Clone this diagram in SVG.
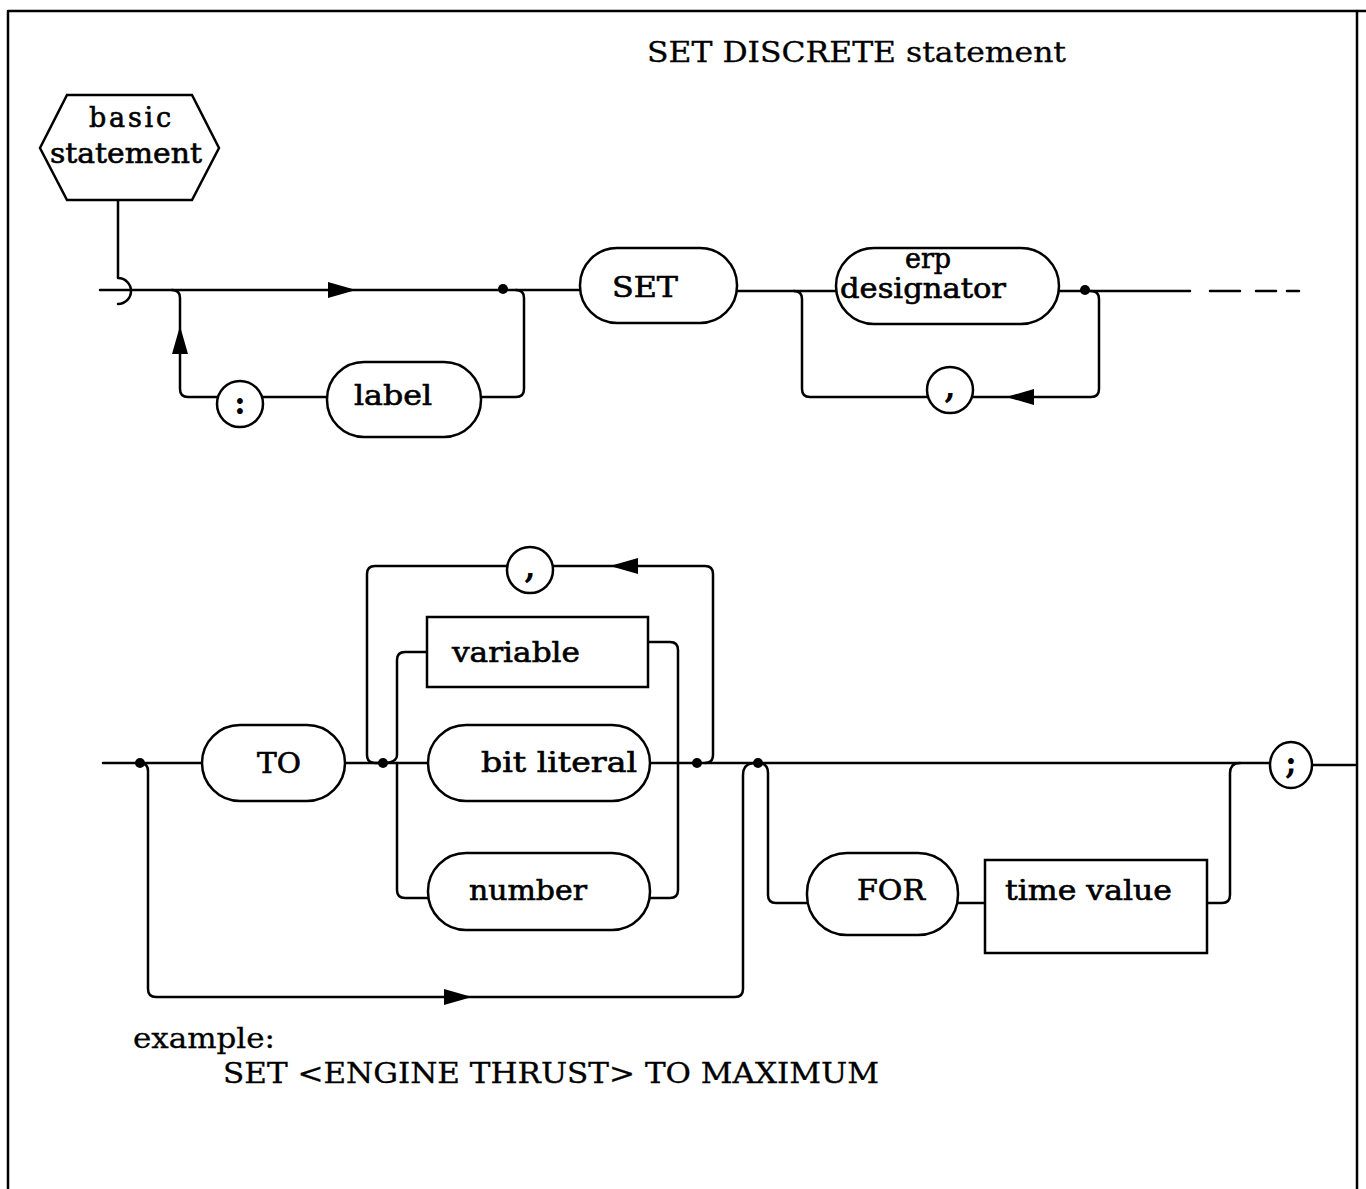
<svg xmlns="http://www.w3.org/2000/svg" width="1366" height="1189" viewBox="0 0 1366 1189">
<style>
.ln{fill:none;stroke:#000;stroke-width:2.5;stroke-linecap:round;stroke-linejoin:round}
.bx{fill:#fff;stroke:#000;stroke-width:2.5}
.ar{fill:#000}
.dot{fill:#000}
.lb{font-family:"DejaVu Serif","Liberation Serif",serif;font-size:27px;fill:#000;stroke:#000;stroke-width:0.6}
.pn{font-family:"DejaVu Serif","Liberation Serif",serif;font-size:32px;font-weight:bold;fill:#000}
.tt{font-family:"DejaVu Serif","Liberation Serif",serif;font-size:27px;fill:#000;stroke:#000;stroke-width:0.3}
</style>
<defs>
<path id="arr" d="M0,0 L-28,-8 L-28,8 Z"/>
</defs>
<rect width="1366" height="1189" fill="#fff"/>
<g id="frame">
<path class="ln" d="M8,1189 V11 H1366" stroke-width="3"/>
<path class="ln" d="M1357,11 V1189"/>
</g>
<text id="title" class="tt" x="647" y="62" textLength="419" lengthAdjust="spacingAndGlyphs">SET DISCRETE statement</text>

<g id="connectors">
<path class="ln" d="M118,200 V278 A13,13 0 0 1 118,304"/>
<path class="ln" d="M100,290 H580"/>
<path class="ln" d="M172,290 Q180,290 180,298 V389 Q180,397 188,397 H217"/>
<path class="ln" d="M263,397 H327"/>
<path class="ln" d="M481,397 H516 Q524,397 524,389 V298 Q524,290 516,290"/>
<path class="ln" d="M737,291 H836"/>
<path class="ln" d="M794,291 Q802,291 802,299 V389 Q802,397 810,397 H927"/>
<path class="ln" d="M973,397 H1091 Q1099,397 1099,389 V299 Q1099,291 1091,291"/>
<path class="ln" d="M1059,291 H1190"/>
<path class="ln" d="M1210,291 H1240 M1256,291 H1276 M1287,291 H1299"/>
<use href="#arr" class="ar" transform="translate(356,290)"/>
<use href="#arr" class="ar" transform="translate(180,326) rotate(-90)"/>
<use href="#arr" class="ar" transform="translate(1006,397) rotate(180)"/>

<path class="ln" d="M103,763 H202"/>
<path class="ln" d="M140,763 Q148,763 148,771 V989 Q148,997 156,997 H735 Q743,997 743,989 V775 Q743,763 755,763"/>
<path class="ln" d="M345,763 H428"/>
<path class="ln" d="M383,763 H375 Q367,763 367,755 V574 Q367,566 375,566 H507"/>
<path class="ln" d="M553,566 H705 Q713,566 713,574 V755 Q713,763 705,763"/>
<path class="ln" d="M383,763 Q397,763 397,755 V660 Q397,652 405,652 H427"/>
<path class="ln" d="M397,763 V890 Q397,898 405,898 H428"/>
<path class="ln" d="M648,642 H670 Q678,642 678,650 V890 Q678,898 670,898 H650"/>
<path class="ln" d="M650,763 H1270"/>
<path class="ln" d="M758,763 Q768,763 768,773 V895 Q768,903 776,903 H807"/>
<path class="ln" d="M958,903 H985"/>
<path class="ln" d="M1207,903 H1222 Q1230,903 1230,895 V773 Q1230,763 1240,763"/>
<path class="ln" d="M1312,765 H1355"/>
<use href="#arr" class="ar" transform="translate(610,566) rotate(180)"/>
<use href="#arr" class="ar" transform="translate(472,997)"/>

<circle class="dot" cx="503" cy="289" r="5"/>
<circle class="dot" cx="1085" cy="290" r="5"/>
<circle class="dot" cx="140" cy="763" r="5"/>
<circle class="dot" cx="383" cy="763" r="5"/>
<circle class="dot" cx="697" cy="763" r="5"/>
<circle class="dot" cx="758" cy="763" r="5"/>
</g>

<g id="basic-statement">
<polygon class="bx" points="67,95 192,95 219,148 192,200 67,200 40,148"/>
<text class="lb" x="89" y="127" textLength="82" lengthAdjust="spacing">basic</text>
<text class="lb" x="50" y="163" textLength="152" lengthAdjust="spacingAndGlyphs">statement</text>
</g>
<g id="colon">
<circle class="bx" cx="240" cy="404" r="23"/>
<text class="pn" x="240" y="414" text-anchor="middle">:</text>
</g>
<g id="label">
<rect class="bx" x="327" y="362" width="154" height="75" rx="37"/>
<text class="lb" x="354" y="405" textLength="78" lengthAdjust="spacingAndGlyphs">label</text>
</g>
<g id="set">
<rect class="bx" x="580" y="248" width="157" height="75" rx="37"/>
<text class="lb" x="612" y="297" textLength="66" lengthAdjust="spacingAndGlyphs">SET</text>
</g>
<g id="erp-designator">
<rect class="bx" x="836" y="248" width="223" height="76" rx="38"/>
<text class="lb" x="928" y="268" text-anchor="middle">erp</text>
<text class="lb" x="840" y="298" textLength="166" lengthAdjust="spacingAndGlyphs">designator</text>
</g>
<g id="comma1">
<circle class="bx" cx="950" cy="390" r="23"/>
<text class="pn" x="950" y="398" text-anchor="middle">,</text>
</g>

<g id="to">
<rect class="bx" x="202" y="725" width="143" height="76" rx="38"/>
<text class="lb" x="257" y="773" textLength="44" lengthAdjust="spacingAndGlyphs">TO</text>
</g>
<g id="comma2">
<circle class="bx" cx="530" cy="570" r="23"/>
<text class="pn" x="530" y="578" text-anchor="middle">,</text>
</g>
<g id="variable">
<rect class="bx" x="427" y="617" width="221" height="70"/>
<text class="lb" x="452" y="662" textLength="128" lengthAdjust="spacingAndGlyphs">variable</text>
</g>
<g id="bit-literal">
<rect class="bx" x="428" y="725" width="222" height="76" rx="38"/>
<text class="lb" x="481" y="772" textLength="156" lengthAdjust="spacingAndGlyphs">bit literal</text>
</g>
<g id="number">
<rect class="bx" x="428" y="853" width="222" height="77" rx="38"/>
<text class="lb" x="469" y="900" textLength="118" lengthAdjust="spacingAndGlyphs">number</text>
</g>
<g id="for">
<rect class="bx" x="807" y="853" width="151" height="82" rx="40"/>
<text class="lb" x="857" y="900" textLength="68" lengthAdjust="spacingAndGlyphs">FOR</text>
</g>
<g id="time-value">
<rect class="bx" x="985" y="860" width="222" height="93"/>
<text class="lb" x="1005" y="900" textLength="167" lengthAdjust="spacingAndGlyphs">time value</text>
</g>
<g id="semicolon">
<ellipse class="bx" cx="1291" cy="765" rx="21" ry="23"/>
<text class="pn" x="1291" y="774" text-anchor="middle">;</text>
</g>

<text class="tt" x="133" y="1048" textLength="142" lengthAdjust="spacingAndGlyphs">example:</text>
<text class="tt" x="223" y="1083" textLength="656" lengthAdjust="spacingAndGlyphs">SET &lt;ENGINE THRUST&gt; TO MAXIMUM</text>
</svg>
